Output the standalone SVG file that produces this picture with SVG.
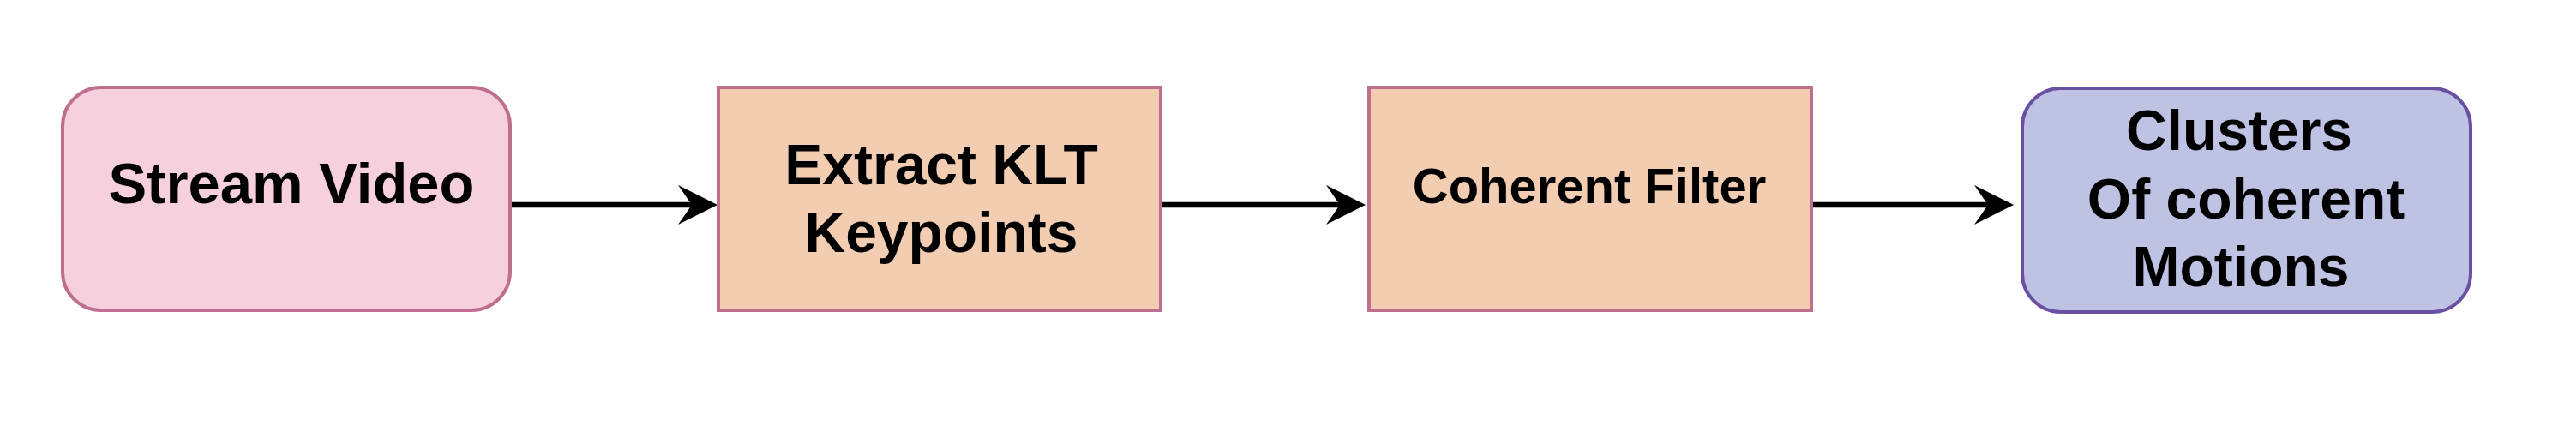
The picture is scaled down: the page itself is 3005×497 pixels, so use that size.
<svg xmlns="http://www.w3.org/2000/svg" width="3005" height="497" viewBox="0 0 3005 497">
<style>
.pink{fill:#F7D0DE;stroke:#BF6E8E;stroke-width:4}
.peach{fill:#F2CDB2;stroke:#BF6E8E;stroke-width:4}
.purple{fill:#BEC3E3;stroke:#6A50A3;stroke-width:4}
.t{font-family:"Liberation Sans",Arial,sans-serif;font-weight:bold;fill:#000;text-anchor:middle}
.edge{stroke:#000;stroke-width:6.5;fill:none}
</style>
<defs>
<marker id="arr" viewBox="0 0 46 46" markerWidth="46" markerHeight="46" refX="16" refY="23" orient="auto" markerUnits="userSpaceOnUse">
<path d="M46,23 L0,0 L16,23 L0,46 Z" fill="#000"/>
</marker>
</defs>
<rect width="3005" height="497" fill="#fff"/>
<g id="connectors">
<line class="edge" x1="597" y1="239" x2="807" y2="239" marker-end="url(#arr)"/>
<line class="edge" x1="1356" y1="239" x2="1563" y2="239" marker-end="url(#arr)"/>
<line class="edge" x1="2115" y1="239" x2="2319" y2="239" marker-end="url(#arr)"/>
</g>
<g id="stream-video">
<rect class="pink" x="73" y="102" width="522" height="260" rx="45" ry="45"/>
<text class="t" x="340" y="237" font-size="67">Stream Video</text>
</g>
<g id="extract-klt">
<rect class="peach" x="838" y="102" width="516" height="260"/>
<text class="t" x="1098" y="215" font-size="66">Extract KLT</text>
<text class="t" x="1098" y="294" font-size="66">Keypoints</text>
</g>
<g id="coherent-filter">
<rect class="peach" x="1597" y="102" width="516" height="260"/>
<text class="t" x="1854" y="237" font-size="58">Coherent Filter</text>
</g>
<g id="clusters">
<rect class="purple" x="2359" y="103" width="523" height="261" rx="45" ry="45"/>
<text class="t" x="2612" y="175" font-size="66">Clusters</text>
<text class="t" x="2620" y="255" font-size="66">Of coherent</text>
<text class="t" x="2614" y="334" font-size="66">Motions</text>
</g>
</svg>
